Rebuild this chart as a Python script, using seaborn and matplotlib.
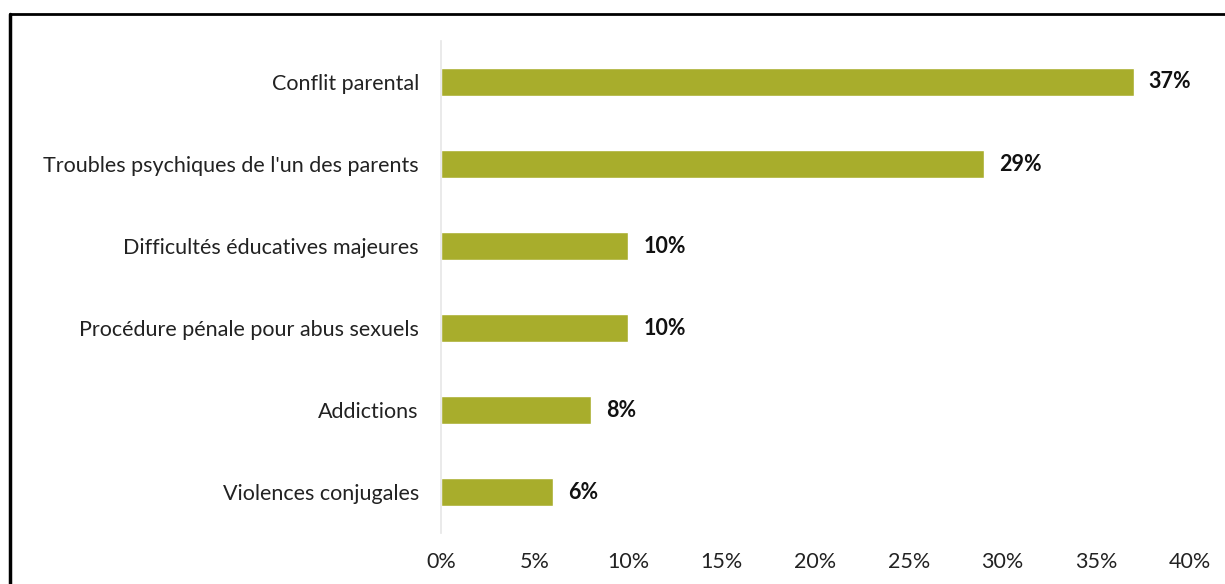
import matplotlib
matplotlib.use("Agg")
import matplotlib.pyplot as plt
import seaborn as sns
import pandas as pd
from matplotlib.lines import Line2D

categories = [
    "Conflit parental",
    "Troubles psychiques de l'un des parents",
    "Difficultés éducatives majeures",
    "Procédure pénale pour abus sexuels",
    "Addictions",
    "Violences conjugales",
]
values = [37, 29, 10, 10, 8, 6]
tick_values = [0, 5, 10, 15, 20, 25, 30, 35, 40]
tick_labels = [f"{v}%" for v in tick_values]

sns.set_theme(style="white")
plt.rcParams["font.family"] = ["Lato", "DejaVu Sans"]

df = pd.DataFrame({"cat": categories, "val": values})

fig = plt.figure(figsize=(12.25, 5.84), dpi=100)
ax = fig.add_axes([0.36, 0.0873, 0.9714 - 0.36, 0.9298 - 0.0873])

sns.barplot(data=df, x="val", y="cat", color="#a8ad2c", width=0.33,
            saturation=1, ax=ax, orient="h")

ax.set_xlim(0, 40)
ax.set_ylim(5.5, -0.5)
ax.set_xticks(tick_values)
ax.set_xticklabels(tick_labels, fontsize=15.5, color="#222222")
ax.tick_params(axis="x", length=0, pad=14)
ax.tick_params(axis="y", length=0, pad=16, labelsize=15.5, labelcolor="#222222")
ax.set_xlabel("")
ax.set_ylabel("")
for s in ["top", "right", "bottom"]:
    ax.spines[s].set_visible(False)
ax.spines["left"].set_color("#e6e6e6")
ax.spines["left"].set_linewidth(1.2)

for i, v in enumerate(values):
    ax.text(v + 0.8, i, f"{v}%", va="center", ha="left",
            fontsize=15.5, fontweight="bold", color="#111111")

# frame lines of the original picture
fig.add_artist(Line2D([0.008, 1.0], [1 - 14 / 584, 1 - 14 / 584],
                      transform=fig.transFigure, color="black", lw=2))
fig.add_artist(Line2D([10 / 1225, 10 / 1225], [0.0, 1 - 14 / 584],
                      transform=fig.transFigure, color="black", lw=2.5))

fig.savefig("out.png", dpi=100)
